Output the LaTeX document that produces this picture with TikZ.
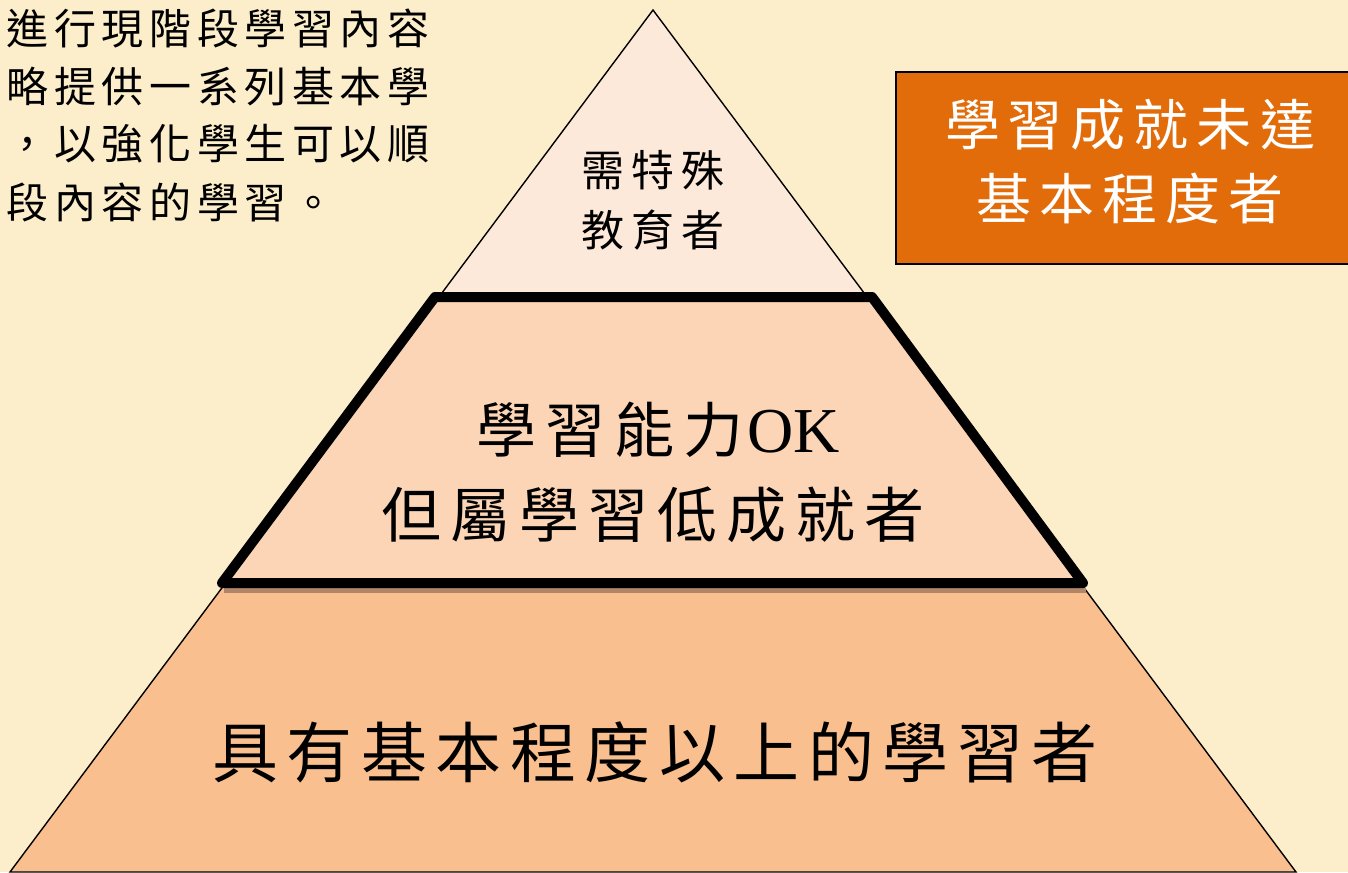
\documentclass[tikz,border=0pt]{standalone}
\usepackage{fontspec}
\newfontfamily\cjk{Noto Sans CJK TC}
\newfontfamily\latinserif{Liberation Serif}
\newlength\chpitch
\def\spaced#1#2{\setlength\chpitch{#1}\spacedi#2\relax}
\def\spacedi#1{\ifx#1\relax\else\makebox[\chpitch]{#1}\expandafter\spacedi\fi}
\definecolor{bgc}{HTML}{FCEECB}
\definecolor{topc}{HTML}{FDE9DA}
\definecolor{midc}{HTML}{FBD5B5}
\definecolor{botc}{HTML}{F9BF8F}
\definecolor{boxc}{HTML}{E36C0A}
\definecolor{shadc}{HTML}{B0856A}
\tikzset{
  txt/.style={inner sep=0pt, outer sep=0pt, text=black},
  thin edge/.style={draw=black, line width=1.4pt},
  thick edge/.style={draw=black, line width=10pt, line join=round, line cap=round},
}
\begin{document}
\begin{tikzpicture}[x=1pt,y=-1pt]
\useasboundingbox (0,0) rectangle (1348,872);
\clip (0,0) rectangle (1348,872);
\fill[bgc] (0,0) rectangle (1348,872);
% pyramid
\coordinate (apex) at (653,10);
\coordinate (bl) at (10,872);
\coordinate (br) at (1296,872);
\fill[botc] (apex) -- (br) -- (bl) -- cycle;
\coordinate (tl) at (439,297);
\coordinate (tr) at (867,297);
\fill[topc] (apex) -- (tr) -- (tl) -- cycle;
\draw[thin edge] (bl) -- (apex) -- (br) -- cycle;
% middle band
\coordinate (ml1) at (435,297);
\coordinate (ml2) at (222,583);
\coordinate (mr2) at (1083,583);
\coordinate (mr1) at (872,297);
\coordinate (sh1) at (224,590);
\coordinate (sh2) at (1086,590);
\draw[shadc, line width=5pt] (sh1) -- (sh2);
\fill[midc] (ml1) -- (ml2) -- (mr2) -- (mr1) -- cycle;
\draw[thick edge] (ml1) -- (ml2) -- (mr2) -- (mr1) -- cycle;
% orange box
\node[draw=black, line width=2pt, fill=boxc, minimum width=460pt, minimum height=192pt, anchor=north west, inner sep=0pt] (box) at (895,71) {};
% texts top-left
\begin{scope}[every node/.style={txt, anchor=west, font=\cjk\fontsize{42}{48}\selectfont}]
\node (l1) at (4,29) {\spaced{47.6pt}{進行現階段學習內容}};
\node (l2) at (4,87) {\spaced{47.6pt}{略提供一系列基本學}};
\node (l3) at (4,144) {\spaced{47.6pt}{，以強化學生可以順}};
\node (l4) at (4,202) {\spaced{47.6pt}{段內容的學習。}};
\end{scope}
% pyramid texts
\node[txt, font=\cjk\fontsize{43}{50}\selectfont] (t1) at (653,170) {\spaced{50pt}{需特殊}};
\node[txt, font=\cjk\fontsize{43}{50}\selectfont] (t2) at (653,230) {\spaced{50pt}{教育者}};
\node[txt, font=\cjk\fontsize{60}{66}\selectfont] (m1) at (656,430) {\spaced{69pt}{學習能力}{\latinserif\fontsize{64}{70}\selectfont OK}};
\node[txt, font=\cjk\fontsize{60}{66}\selectfont] (m2) at (653,515) {\spaced{69pt}{但屬學習低成就者}};
\node[txt, font=\cjk\fontsize{66}{80}\selectfont] (b1) at (655,752) {\spaced{74.5pt}{具有基本程度以上的學習者}};
% box texts
\node[txt, text=white, font=\cjk\fontsize{55}{62}\selectfont] (x1) at (1130,125) {\spaced{63pt}{學習成就未達}};
\node[txt, text=white, font=\cjk\fontsize{55}{62}\selectfont] (x2) at (1130,198) {\spaced{63pt}{基本程度者}};
\end{tikzpicture}
\end{document}
